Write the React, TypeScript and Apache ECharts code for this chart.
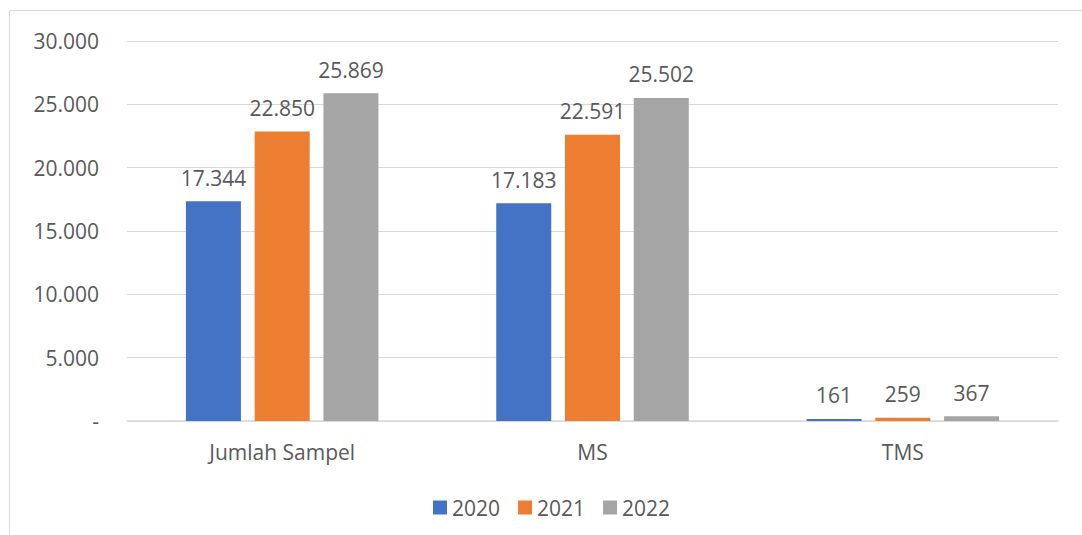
import React, { useEffect, useRef } from "react";
import * as echarts from "echarts";

const categories = ["Jumlah Sampel", "MS", "TMS"];
const seriesNames = ["2020", "2021", "2022"];
const values2020 = [17344, 17183, 161];
const values2021 = [22850, 22591, 259];
const values2022 = [25869, 25502, 367];
const colors = ["#4472C4", "#ED7D31", "#A5A5A5"];

const FONT = "Open Sans";
const TEXT = "#595959";
const FS = 21;

function fmt(v: number): string {
  if (v === 0) return "-";
  return String(Math.round(v)).replace(/\B(?=(\d{3})+(?!\d))/g, ".");
}

export default function App() {
  const ref = useRef<HTMLDivElement>(null);
  useEffect(() => {
    if (!ref.current) return;
    const chart = echarts.init(ref.current, null, { renderer: "svg" });
    const data = [values2020, values2021, values2022];
    chart.setOption({
      animation: false,
      textStyle: { fontFamily: FONT },
      graphic: [
        {
          type: "rect",
          shape: { x: 9.5, y: 10.5, width: 1200, height: 700 },
          style: { fill: "none", stroke: "#D9D9D9", lineWidth: 1 },
          silent: true,
          z: -1,
        },
      ],
      grid: { left: 127, right: 24, top: 41, bottom: 114, containLabel: false },
      legend: {
        data: seriesNames,
        left: 428,
        top: 492,
        itemWidth: 14,
        itemHeight: 14,
        itemGap: 18,
        icon: "rect",
        textStyle: { color: TEXT, fontSize: FS, fontFamily: FONT, padding: [0, 0, 0, 0] },
      },
      xAxis: {
        type: "category",
        data: categories,
        axisLine: { lineStyle: { color: "#D9D9D9", width: 1.5 } },
        axisTick: { show: false },
        axisLabel: { color: TEXT, fontSize: FS, fontFamily: FONT, margin: 20 },
      },
      yAxis: {
        type: "value",
        min: 0,
        max: 30000,
        interval: 5000,
        axisLine: { show: false },
        axisTick: { show: false },
        splitLine: { lineStyle: { color: "#D9D9D9", width: 1 } },
        axisLabel: {
          color: TEXT,
          fontSize: FS,
          fontFamily: FONT,
          margin: 28,
          formatter: (v: number) => fmt(v),
        },
      },
      series: seriesNames.map((name, i) => ({
        name,
        type: "bar",
        data: data[i],
        barWidth: 55,
        barGap: "25%",
        itemStyle: { color: colors[i] },
        label: {
          show: true,
          position: "top",
          distance: 13,
          color: TEXT,
          fontSize: FS,
          fontFamily: FONT,
          formatter: (p: any) => fmt(p.value),
        },
      })),
    });
    return () => chart.dispose();
  }, []);
  return (
    <div
      ref={ref}
      style={{ position: "fixed", left: 0, top: 0, width: 1082, height: 535, background: "#fff" }}
    />
  );
}
